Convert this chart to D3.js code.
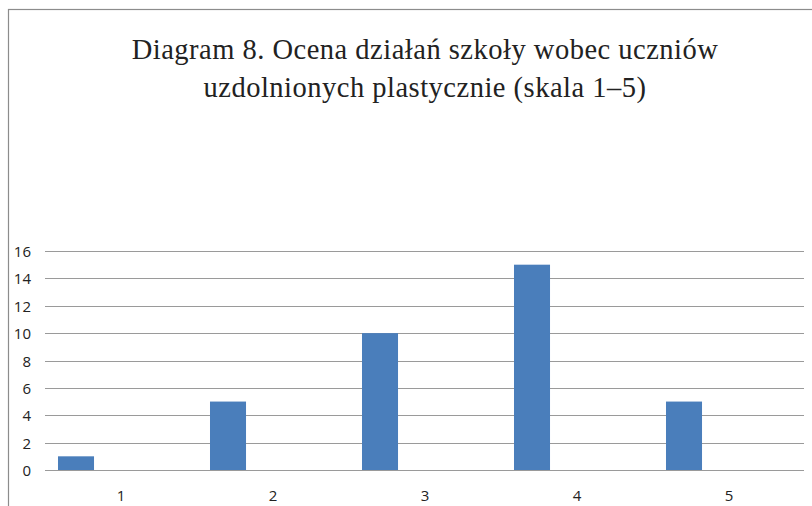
<!DOCTYPE html>
<html>
<head>
<meta charset="utf-8">
<script src="https://cdn.jsdelivr.net/npm/d3@7"></script>
<style>
  body { margin: 0; background: #fff; }
  svg { display: block; }
</style>
</head>
<body>
<div id="chart"></div>
<script>
// Data
var categories = ["1", "2", "3", "4", "5"]
var values = [1, 5, 10, 15, 5]
var yTicks = [0, 2, 4, 6, 8, 10, 12, 14, 16]
var titleLines = ["Diagram 8. Ocena działań szkoły wobec uczniów", "uzdolnionych plastycznie (skala 1–5)"]

var W = 812, H = 506

var svg = d3.select("#chart").append("svg")
  .attr("width", W)
  .attr("height", H)

// chart border
svg.append("rect")
  .attr("x", 8.5).attr("y", 9.5)
  .attr("width", W + 20).attr("height", H + 20)
  .attr("fill", "none")
  .attr("stroke", "#8c8c8c")
  .attr("stroke-width", 1.2)

// Title
svg.append("text")
  .attr("text-anchor", "middle")
  .attr("font-family", "Liberation Serif, Times New Roman, serif")
  .attr("font-size", 28.5)
  .attr("letter-spacing", 0.5)
  .attr("fill", "#222")
  .selectAll("tspan")
  .data(titleLines)
  .enter()
  .append("tspan")
  .attr("x", 425)
  .attr("y", function(d, i) { return 59 + i * 38 })
  .text(function(d) { return d })

// Scales
var x = d3.scaleBand()
  .domain(categories)
  .range([45, 805])

var y = d3.scaleLinear()
  .domain([0, 16])
  .range([470, 251])

// Grid lines
svg.append("g")
  .selectAll("line")
  .data(yTicks)
  .enter()
  .append("line")
  .attr("x1", 45).attr("x2", 804)
  .attr("y1", function(d) { return Math.round(y(d)) + 0.5 })
  .attr("y2", function(d) { return Math.round(y(d)) + 0.5 })
  .attr("stroke", "#9a9a9a")
  .attr("stroke-width", 1)

// Y labels
svg.append("g")
  .selectAll("text")
  .data(yTicks)
  .enter()
  .append("text")
  .attr("x", 31)
  .attr("y", function(d) { return y(d) + 6 })
  .attr("text-anchor", "end")
  .attr("font-family", "Open Sans, Liberation Sans, sans-serif")
  .attr("font-size", 15)
  .attr("fill", "#222")
  .text(function(d) { return d })

// Bars (left slot of each category)
var bw = x.bandwidth()
svg.append("g")
  .selectAll("rect")
  .data(values)
  .enter()
  .append("rect")
  .attr("x", function(d, i) { return x(categories[i]) + bw * 0.0855 })
  .attr("width", bw * 0.237)
  .attr("y", function(d) { return y(d) })
  .attr("height", function(d) { return y(0) - y(d) })
  .attr("fill", "#4a7ebb")

// X labels
svg.append("g")
  .selectAll("text")
  .data(categories)
  .enter()
  .append("text")
  .attr("x", function(d) { return x(d) + bw / 2 })
  .attr("y", 501)
  .attr("text-anchor", "middle")
  .attr("font-family", "Open Sans, Liberation Sans, sans-serif")
  .attr("font-size", 15)
  .attr("fill", "#222")
  .text(function(d) { return d })
</script>
</body>
</html>
